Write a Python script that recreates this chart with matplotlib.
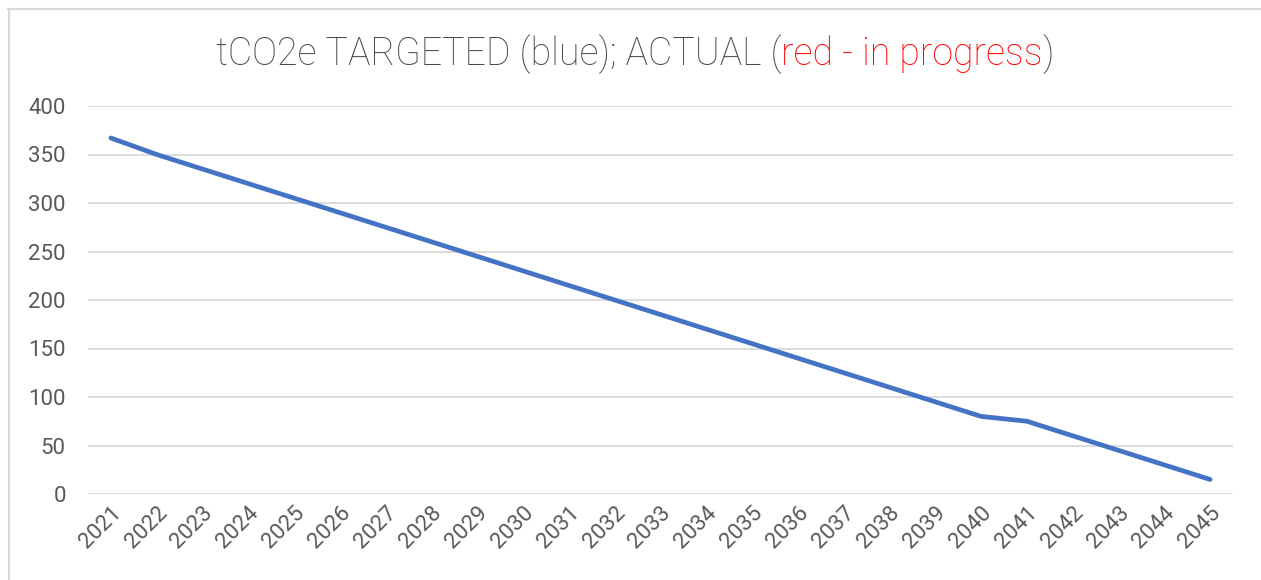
import matplotlib
matplotlib.use('Agg')
import matplotlib.pyplot as plt
from matplotlib.lines import Line2D

years = ['2021', '2022', '2023', '2024', '2025', '2026', '2027', '2028', '2029',
         '2030', '2031', '2032', '2033', '2034', '2035', '2036', '2037', '2038',
         '2039', '2040', '2041', '2042', '2043', '2044', '2045']
targeted = [367, 350, 335, 320, 305, 290, 275, 260, 245, 230, 215, 200, 185,
            170, 155, 140, 125, 110, 95, 80, 75, 60, 45, 30, 15]
yticks = [0, 50, 100, 150, 200, 250, 300, 350, 400]

grey = '#595959'
plt.rcParams['font.family'] = ['Roboto', 'DejaVu Sans']

fig = plt.figure(figsize=(12.61, 5.8), dpi=100)
ax = fig.add_axes([88 / 1261, 1 - 494 / 580, (1233 - 88) / 1261, (494 - 106) / 580])

x = list(range(len(years)))
ax.plot(x, targeted, color='#4472C4', lw=3.4, solid_capstyle='round', solid_joinstyle='round')

ax.set_xlim(-0.5, len(years) - 0.5)
ax.set_ylim(0, 400)
ax.set_yticks(yticks)
ax.set_xticks(x)
ax.set_xticklabels(years, rotation=45, ha='right', rotation_mode='anchor')
ax.grid(axis='y', color='#D9D9D9', lw=1.3)
ax.set_axisbelow(True)
for s in ax.spines.values():
    s.set_visible(False)
ax.tick_params(axis='both', length=0, labelsize=16, labelcolor=grey)
ax.tick_params(axis='y', pad=16)
ax.tick_params(axis='x', pad=6)

# chart border (top and left)
fig.add_artist(Line2D([8 / 1261, 1], [1 - 9 / 580, 1 - 9 / 580], color='#D9D9D9', lw=1.5))
fig.add_artist(Line2D([9 / 1261, 9 / 1261], [0, 1 - 9 / 580], color='#D9D9D9', lw=1.5))

# two-colour title
parts = [('tCO2e TARGETED (blue); ACTUAL (', '#4a4a4a'), ('red - in progress', '#FF0000'), (')', '#4a4a4a')]
ty = 1 - 54 / 580
texts = [fig.text(0, ty, p, color=c, fontsize=27, fontweight='light', va='center', ha='left')
         for p, c in parts]
fig.canvas.draw()
r = fig.canvas.get_renderer()
widths = [t.get_window_extent(r).width for t in texts]
total = sum(widths)
xpos = 635 - total / 2
for t, w in zip(texts, widths):
    t.set_x(xpos / 1261)
    xpos += w

fig.savefig('out.png', dpi=100)
